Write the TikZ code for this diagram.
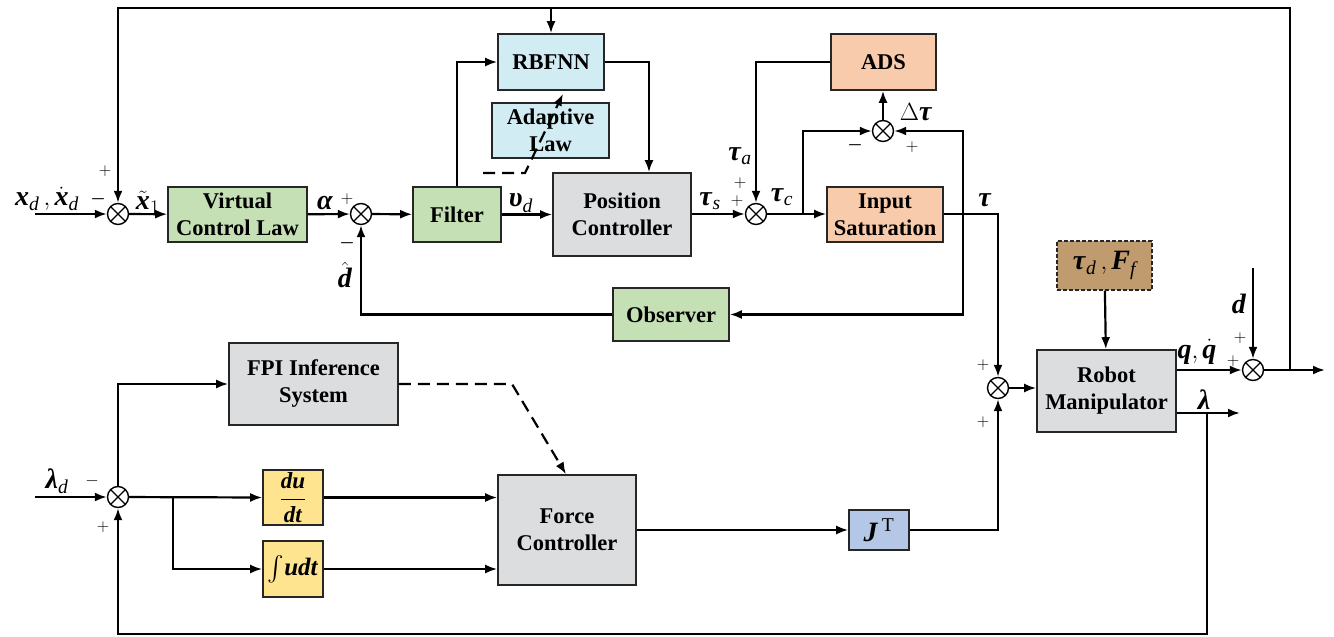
\documentclass[tikz,border=0pt]{standalone}
\usepackage{amsmath}
\usepackage{fontspec}
\setmainfont{Liberation Serif}
\usetikzlibrary{arrows.meta,positioning,calc}
\definecolor{cgreen}{HTML}{C5E0B4}
\definecolor{cblue}{HTML}{D2ECF3}
\definecolor{cgray}{HTML}{DCDDDF}
\definecolor{csalm}{HTML}{F8CBAD}
\definecolor{cbrown}{HTML}{C09B6E}
\definecolor{cyell}{HTML}{FFE48F}
\definecolor{cjac}{HTML}{B4C7E7}
\newcommand{\boxfont}{\bfseries\fontsize{22.5}{27}\selectfont}
\newcommand{\lblfont}{\fontsize{28}{30}\selectfont}
\newcommand{\sgnfont}{\fontsize{17}{20}\selectfont}
\newcommand{\bi}[1]{\textbf{\textit{#1}}}
\newcommand{\sbs}[1]{\textit{#1}}
\tikzset{
  blk/.style={draw=black!85, line width=1.6pt, align=center, inner sep=0pt, font=\boxfont},
  sumnode/.style={circle, draw, line width=1.4pt, minimum size=21pt, inner sep=0pt, fill=white,
    path picture={\draw[line width=1.2pt]
      (path picture bounding box.north west) -- (path picture bounding box.south east)
      (path picture bounding box.north east) -- (path picture bounding box.south west);}},
  arr/.style={-{Latex[length=12pt,width=9pt]}, line width=2.2pt},
  dasharr/.style={arr, dash pattern=on 12pt off 7pt},
  sgn/.style={font=\sgnfont, inner sep=0pt},
  lbl/.style={font=\lblfont, inner sep=0pt},
}
\begin{document}
\begin{tikzpicture}[x=1pt,y=-1pt]
  \useasboundingbox (0,0) rectangle (1334,637);
  % blocks
  \node[blk,fill=cgreen,minimum width=139pt,minimum height=55pt] (vcl) at (237.5,214.5) {Virtual\\Control Law};
  \node[blk,fill=cgreen,minimum width=88pt,minimum height=55pt] (filt) at (457,214.5) {Filter};
  \node[blk,fill=cblue,minimum width=106pt,minimum height=56pt] (rbf) at (551,62) {RBFNN};
  \node[blk,fill=cblue,minimum width=117pt,minimum height=55pt] (adl) at (550.5,130.5) {Adaptive\\Law};
  \node[blk,fill=cgray,minimum width=138pt,minimum height=83pt] (pos) at (622,214.5) {Position\\Controller};
  \node[blk,fill=csalm,minimum width=105pt,minimum height=56pt] (ads) at (883.5,62) {ADS};
  \node[blk,fill=csalm,minimum width=116pt,minimum height=55pt] (isat) at (885,214.5) {Input\\Saturation};
  \node[blk,fill=cgreen,minimum width=116pt,minimum height=53pt] (obs) at (671,314.5) {Observer};
  \node[blk,fill=cbrown,dash pattern=on 4pt off 2pt,line width=1.3pt,minimum width=95pt,minimum height=49pt,font=\lblfont] (dist) at (1104.5,265.5) {$\bi{τ}_{\sbs{d}}\,,\bi{F}_{\sbs{f}}$};
  \node[blk,fill=cgray,minimum width=139pt,minimum height=82pt] (robot) at (1106.5,391) {Robot\\Manipulator};
  \node[blk,fill=cgray,minimum width=169pt,minimum height=82pt] (fpi) at (313.5,384) {FPI Inference\\System};
  \node[blk,fill=cyell,minimum width=60pt,minimum height=55pt,font=\fontsize{23}{24}\selectfont] (dudt) at (293,497.5) {$\dfrac{\bi{du}}{\bi{dt}}$};
  \node[blk,fill=cyell,minimum width=60pt,minimum height=56pt,font=\fontsize{25}{26}\selectfont] (intg) at (293,569) {$\int\!\bi{udt}$};
  \node[blk,fill=cgray,minimum width=138pt,minimum height=110pt] (force) at (567,530) {Force\\Controller};
  \node[blk,fill=cjac,minimum width=60pt,minimum height=40pt,font=\lblfont] (jac) at (879,530) {$\bi{J}^{\,\mathrm{T}}$};
  % summing junctions
  \node[sumnode] (s1) at (118,214) {};
  \node[sumnode] (s2) at (361,214) {};
  \node[sumnode] (s3) at (756,214) {};
  \node[sumnode] (s4) at (883,131) {};
  \node[sumnode] (s5) at (998,388) {};
  \node[sumnode] (s6) at (1253,370) {};
  \node[sumnode] (s7) at (118,497) {};
  % free ends and branch points
  \coordinate (xin) at (35,214);
  \coordinate (lin) at (35,497);
  \coordinate (dtop) at (1253,268);
  \coordinate (yout) at (1325,370);
  \coordinate (lout) at (1240,413);
  \coordinate (tl) at (118,8);
  \coordinate (bl) at (118,634);
  \coordinate (b1) at (803,214);
  \coordinate (b2) at (963,214);
  \coordinate (b3) at (1290,370);
  \coordinate (b4) at (1207,413);
  \coordinate (b5) at (173,497);
  \coordinate (ad0) at (483,173);
  \coordinate (ad1) at (525,173);
  \coordinate (fp1) at (512,384);
  % position loop
  \draw[arr] (xin) -- (s1);
  \draw[arr] (s1) -- (vcl);
  \draw[arr] (vcl) -- (s2);
  \draw[arr] (s2) -- (filt);
  \draw[arr] (filt) -- (pos);
  \draw[arr] (pos.east |- s3) -- (s3);
  \draw[arr] (s3) -- (isat.west |- s3);
  \draw[arr] (filt.north) |- (rbf.west);
  \draw[arr] (rbf.east) -| ([xshift=27pt]pos.north);
  \draw[dasharr] (ad0) -- (ad1) -- ([xshift=12pt,yshift=-3pt]rbf.south);
  \draw[arr] (ads.west) -| (s3.north);
  \draw[arr] (b1) |- (s4.west);
  \draw[arr] (s4.north) -- (s4.north |- ads.south);
  \draw[arr] (isat.east |- b2) -| (s5.north);
  \draw[arr] (b2) |- (s4.east);
  \draw[arr] (b2) |- (obs.east);
  \draw[arr] (obs.west) -| (s2.south);
  % plant
  \draw[arr] (dist) -- (robot);
  \draw[arr] (s5) -- (robot.west |- s5);
  \draw[arr] (robot.east |- s6) -- (s6);
  \draw[arr] (dtop) -- (s6.north);
  \draw[arr] (s6) -- (yout);
  \draw[arr] (b3) |- (tl) -- (s1.north);
  \draw[arr] (rbf.north |- tl) -- (rbf.north);
  \draw[arr] (robot.east |- lout) -- (lout);
  % force loop
  \draw[arr] (lin) -- (s7);
  \draw[arr] (b4) |- (bl) -- (s7.south);
  \draw[arr] (s7.north) |- (fpi.west);
  \draw[arr] (s7) -- (dudt.west);
  \draw[arr] (b5) |- (intg.west);
  \draw[arr] (dudt.east) -- (dudt.east -| force.west);
  \draw[arr] (intg.east) -- (intg.east -| force.west);
  \draw[dasharr] (fpi.east) -- (fp1) -- ([xshift=-1pt]force.north);
  \draw[arr] (force.east |- jac) -- (jac);
  \draw[arr] (jac.east) -| (s5.south);
  % labels
  \node[lbl] (lxd) at (47,199) {$\bi{x}_{\sbs{d}}\,,\dot{\bi{x}}_{\sbs{d}}$};
  \node[sgn] (m1) at (98,199) {$\boldsymbol{-}$};
  \node[sgn] (p1) at (105,171) {$+$};
  \node[lbl] (lx1) at (148,203) {$\tilde{\bi{x}}_{1}$};
  \node[lbl] (lal) at (325,203) {$\bi{α}$};
  \node[sgn] (p2) at (347,199) {$+$};
  \node[sgn] (m2) at (347,243) {$\boldsymbol{-}$};
  \node[lbl] (ldh) at (345,275) {$\hat{\bi{d}}$};
  \node[lbl] (lud) at (521,203) {$\bi{υ}_{\sbs{d}}$};
  \node[lbl] (lts) at (710,201) {$\bi{τ}_{\sbs{s}}$};
  \node[sgn] (p3) at (737,201) {$+$};
  \node[sgn] (p4) at (740,183) {$+$};
  \node[lbl] (lta) at (740,156) {$\bi{τ}_{\sbs{a}}$};
  \node[lbl] (ltc) at (782,197) {$\bi{τ}_{\sbs{c}}$};
  \node[sgn] (m4) at (855,145) {$\boldsymbol{-}$};
  \node[sgn] (p5) at (912,147) {$+$};
  \node[lbl] (ldt) at (916,112) {$\Delta\bi{τ}$};
  \node[lbl] (ltau) at (985,200) {$\bi{τ}$};
  \node[sgn] (p6) at (983,365) {$+$};
  \node[sgn] (p7) at (983,422) {$+$};
  \node[lbl] (lq) at (1197,352) {$\bi{q},\dot{\bi{q}}$};
  \node[sgn] (p8) at (1233,361) {$+$};
  \node[lbl] (ld) at (1239,304) {$\bi{d}$};
  \node[sgn] (p9) at (1240,338) {$+$};
  \node[lbl] (llam) at (1204,400) {$\bi{λ}$};
  \node[lbl] (lld) at (57,481) {$\bi{λ}_{\sbs{d}}$};
  \node[sgn] (m7) at (92,481) {$-$};
  \node[sgn] (p10) at (103,527) {$+$};
\end{tikzpicture}
\end{document}
